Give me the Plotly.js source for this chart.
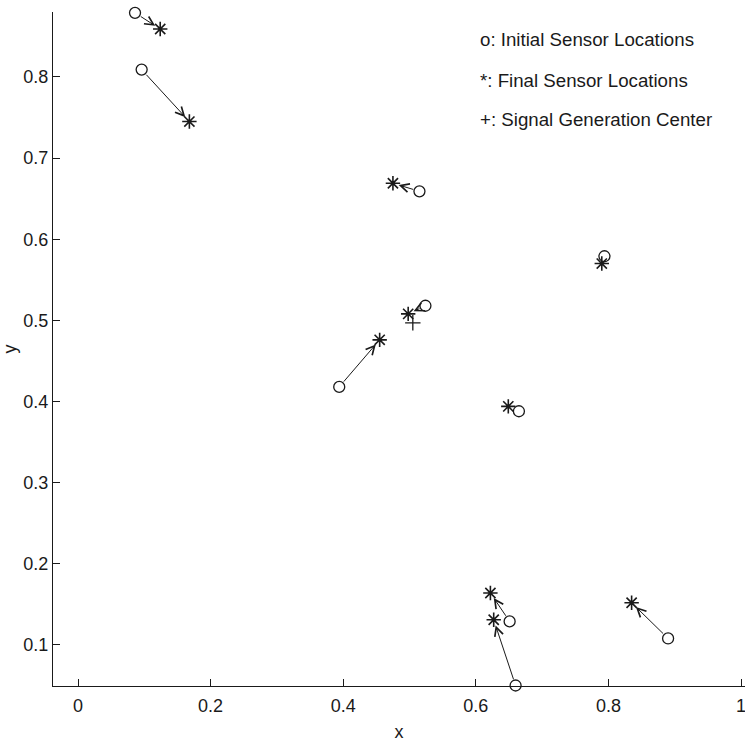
<!DOCTYPE html>
<html>
<head>
<meta charset="utf-8">
<script src="https://cdn.plot.ly/plotly-3.0.1.min.js"></script>
<style>html,body{margin:0;padding:0;background:#fff;}#chart{width:745px;height:748px;}</style>
</head>
<body>
<div id="chart"></div>
<script>
// Initial sensor locations (o)
var initX = [0.086, 0.096, 0.515, 0.524, 0.394, 0.794, 0.665, 0.651, 0.660, 0.890];
var initY = [0.879, 0.809, 0.659, 0.518, 0.418, 0.579, 0.388, 0.129, 0.050, 0.108];
// Final sensor locations (*)
var finalX = [0.124, 0.168, 0.475, 0.498, 0.455, 0.790, 0.649, 0.622, 0.627, 0.835];
var finalY = [0.859, 0.745, 0.669, 0.508, 0.476, 0.570, 0.394, 0.164, 0.131, 0.152];
// Signal generation center (+)
var centerX = [0.505];
var centerY = [0.497];
// Legend text lines
var legendLines = ['o: Initial Sensor Locations', '*: Final Sensor Locations', '+: Signal Generation Center'];
var legendY = [0.846, 0.796, 0.747];
var xTicks = [0, 0.2, 0.4, 0.6, 0.8, 1];
var xTickText = ['0', '0.2', '0.4', '0.6', '0.8', '1'];
var yTicks = [0.1, 0.2, 0.3, 0.4, 0.5, 0.6, 0.7, 0.8];
var yTickText = ['0.1', '0.2', '0.3', '0.4', '0.5', '0.6', '0.7', '0.8'];

var ink = '#1a1a1a';
var fontFam = 'Liberation Sans, Arial, sans-serif';

var traces = [
  {x: initX, y: initY, mode: 'markers', type: 'scatter', cliponaxis: false,
   marker: {symbol: 'circle-open', size: 11, color: ink, line: {width: 1.3, color: ink}}},
  {x: finalX, y: finalY, mode: 'markers', type: 'scatter', cliponaxis: false,
   marker: {symbol: 'asterisk-open', size: 12, color: ink, line: {width: 1.6, color: ink}}},
  {x: centerX, y: centerY, mode: 'markers', type: 'scatter', cliponaxis: false,
   marker: {symbol: 'cross-thin-open', size: 11, color: ink, line: {width: 1.3, color: ink}}}
];

var annotations = [];
for (var i = 0; i < initX.length; i++) {
  annotations.push({
    x: finalX[i], y: finalY[i], ax: initX[i], ay: initY[i],
    xref: 'x', yref: 'y', axref: 'x', ayref: 'y',
    showarrow: true, arrowhead: 5, arrowsize: 1.7, arrowwidth: 1,
    arrowcolor: ink, standoff: 6, startstandoff: 5, text: ''
  });
}
for (var j = 0; j < legendLines.length; j++) {
  annotations.push({
    x: 0.603, y: legendY[j], xref: 'x', yref: 'y', text: legendLines[j],
    showarrow: false, xanchor: 'left', yanchor: 'middle',
    font: {family: fontFam, size: 18.7, color: ink}
  });
}

var layout = {
  width: 745, height: 748,
  margin: {l: 53, r: 0, t: 12, b: 62},
  paper_bgcolor: '#fff', plot_bgcolor: '#fff',
  showlegend: false,
  font: {family: fontFam, size: 18, color: ink},
  xaxis: {
    range: [-0.0377, 1.006], tickvals: xTicks, ticktext: xTickText,
    ticks: 'inside', ticklen: 7, tickwidth: 1, tickcolor: ink,
    showline: true, linecolor: ink, linewidth: 1.2, showgrid: false, zeroline: false,
    tickfont: {family: fontFam, size: 18, color: ink},
    ticklabelstandoff: 3, ticklabeloverflow: 'allow',
    title: {text: 'x', font: {family: fontFam, size: 18, color: ink}, standoff: 10},
    fixedrange: true
  },
  yaxis: {
    range: [0.0494, 0.880], tickvals: yTicks, ticktext: yTickText,
    ticks: 'inside', ticklen: 7, tickwidth: 1, tickcolor: ink,
    showline: true, linecolor: ink, linewidth: 1.2, showgrid: false, zeroline: false,
    tickfont: {family: fontFam, size: 18, color: ink},
    ticklabelstandoff: 0, ticklabeloverflow: 'allow',
    title: {text: 'y', font: {family: fontFam, size: 18, color: ink}, standoff: 4},
    fixedrange: true
  },
  annotations: annotations
};

Plotly.newPlot('chart', traces, layout, {displayModeBar: false, staticPlot: true});
</script>
</body>
</html>
